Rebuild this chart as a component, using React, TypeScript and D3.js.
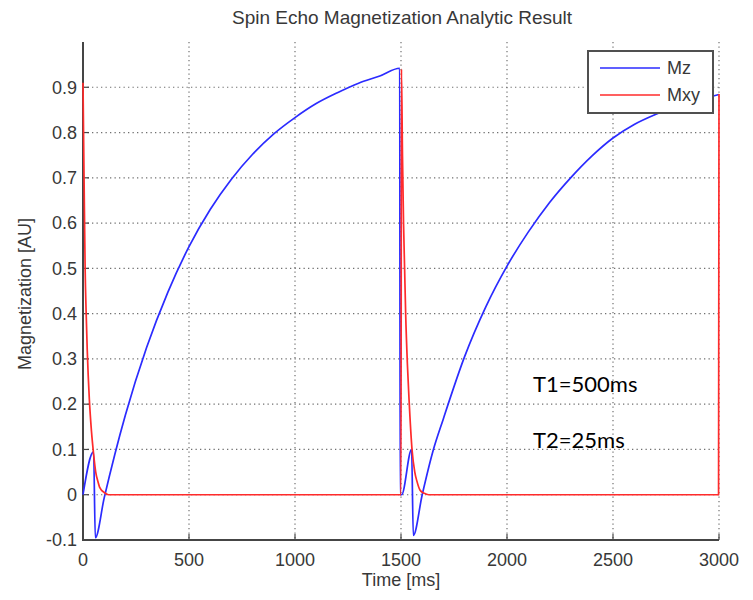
import React, { useEffect, useRef } from 'react';
import * as d3 from 'd3';

// values
const mzTime = [0, 50, 58, 100, 150, 200, 300, 400, 500, 600, 700, 800, 900, 1000, 1100, 1200, 1300, 1400, 1494, 1496, 1503, 1550, 1558, 1600, 1650, 1700, 1800, 1900, 2000, 2100, 2200, 2300, 2400, 2500, 2600, 2700, 2800, 2900, 3000];
const mzValue = [0, 0.095, -0.095, -0.007, 0.089, 0.176, 0.325, 0.447, 0.548, 0.63, 0.697, 0.752, 0.797, 0.833, 0.864, 0.888, 0.909, 0.925, 0.942, 0, 0, 0.1, -0.09, 0, 0.095, 0.168, 0.305, 0.415, 0.505, 0.58, 0.645, 0.7, 0.748, 0.788, 0.818, 0.84, 0.858, 0.872, 0.884];

const mxyTime = [0, 5, 10, 15, 20, 30, 40, 50, 60, 70, 80, 100, 120, 1500, 1502, 1507, 1512, 1517, 1522, 1530, 1538, 1552, 1565, 1575, 1590, 1610, 1630, 2998, 3000];
const mxyValue = [0.91, 0.7, 0.5, 0.4, 0.32, 0.21, 0.14, 0.09, 0.05, 0.03, 0.015, 0.005, 0, 0, 0.94, 0.75, 0.6, 0.5, 0.4, 0.29, 0.21, 0.1, 0.05, 0.03, 0.01, 0.003, 0, 0, 0.885];

const xTicks = [0, 500, 1000, 1500, 2000, 2500, 3000];
const yTicks = [-0.1, 0, 0.1, 0.2, 0.3, 0.4, 0.5, 0.6, 0.7, 0.8, 0.9];
const seriesNames = ['Mz', 'Mxy'];
const seriesColors = ['#2b2bff', '#ff2b2b'];
const notes = ['T1=500ms', 'T2=25ms'];

const axisFont = '"Liberation Sans", Arial, sans-serif';

const SpinEchoChart = () => {
    const ref = useRef<SVGSVGElement>(null);

    useEffect(() => {
        const width = 753;
        const height = 600;
        const margin = { top: 42, right: 34, bottom: 60, left: 83 };

        const svg = d3.select(ref.current);
        svg.selectAll('*').remove();

        const x = d3.scaleLinear().domain([0, 3000]).range([margin.left, width - margin.right]);
        const y = d3.scaleLinear().domain([-0.1, 1.0]).range([height - margin.bottom, margin.top]);

        svg.append('rect').attr('width', width).attr('height', height).attr('fill', '#fff');

        // dotted grid
        const grid = svg.append('g')
            .attr('stroke', '#707070')
            .attr('stroke-width', 1.2)
            .attr('stroke-dasharray', '1.3,3.2');
        grid.selectAll('line.v')
            .data(xTicks.filter(d => d > 0))
            .join('line')
            .attr('class', 'v')
            .attr('x1', d => x(d)).attr('x2', d => x(d))
            .attr('y1', y(1.0)).attr('y2', y(-0.1));
        grid.selectAll('line.h')
            .data(yTicks.filter(d => d > -0.1))
            .join('line')
            .attr('class', 'h')
            .attr('y1', d => y(d)).attr('y2', d => y(d))
            .attr('x1', x(0)).attr('x2', x(3000));

        // axes (left + bottom only), ticks point inward
        const axes = svg.append('g').attr('stroke', '#454545');
        axes.append('path')
            .attr('fill', 'none')
            .attr('stroke-width', 2)
            .attr('d', `M${x(0)},${y(1.0)}V${y(-0.1)}H${x(3000)}`);
        axes.selectAll('line.ty')
            .data(yTicks)
            .join('line')
            .attr('class', 'ty')
            .attr('stroke-width', 1.2)
            .attr('x1', x(0)).attr('x2', x(0) + 6)
            .attr('y1', d => y(d)).attr('y2', d => y(d));
        axes.selectAll('line.tx')
            .data(xTicks)
            .join('line')
            .attr('class', 'tx')
            .attr('stroke-width', 1.2)
            .attr('x1', d => x(d)).attr('x2', d => x(d))
            .attr('y1', y(-0.1)).attr('y2', y(-0.1) - 6);

        const labels = svg.append('g')
            .attr('font-family', axisFont)
            .attr('font-size', 18)
            .attr('fill', '#383838');
        labels.selectAll('text.ly')
            .data(yTicks)
            .join('text')
            .attr('class', 'ly')
            .attr('x', x(0) - 6)
            .attr('y', d => y(d))
            .attr('dy', '0.35em')
            .attr('text-anchor', 'end')
            .text(d => d3.format('.1~f')(d).replace('\u2212', '-'));
        labels.selectAll('text.lx')
            .data(xTicks)
            .join('text')
            .attr('class', 'lx')
            .attr('x', d => x(d))
            .attr('y', y(-0.1) + 26)
            .attr('text-anchor', 'middle')
            .text(d => String(d));

        labels.append('text')
            .attr('x', (x(0) + x(3000)) / 2)
            .attr('y', 586)
            .attr('text-anchor', 'middle')
            .text('Time [ms]');
        labels.append('text')
            .attr('transform', `translate(31,294) rotate(-90)`)
            .attr('text-anchor', 'middle')
            .text('Magnetization [AU]');
        labels.append('text')
            .attr('x', 402)
            .attr('y', 24)
            .attr('font-size', 19)
            .attr('text-anchor', 'middle')
            .text('Spin Echo Magnetization Analytic Result');

        // curves
        const series = [
            mzTime.map((t, i) => [t, mzValue[i]] as [number, number]),
            mxyTime.map((t, i) => [t, mxyValue[i]] as [number, number]),
        ];
        const line = d3.line<[number, number]>()
            .x(d => x(d[0]))
            .y(d => y(d[1]))
            .curve(d3.curveMonotoneX);
        svg.append('g')
            .attr('fill', 'none')
            .attr('stroke-width', 1.7)
            .attr('stroke-linejoin', 'round')
            .selectAll('path')
            .data(series)
            .join('path')
            .attr('stroke', (d, i) => seriesColors[i])
            .attr('d', d => line(d));

        // notes
        svg.append('g')
            .attr('font-family', 'Lato, "Open Sans", sans-serif')
            .attr('font-size', 22)
            .attr('fill', '#000')
            .selectAll('text')
            .data(notes)
            .join('text')
            .attr('x', 533)
            .attr('y', (d, i) => 392 + i * 56)
            .text(d => d);

        // legend
        const legend = svg.append('g');
        legend.append('rect')
            .attr('x', 588).attr('y', 51)
            .attr('width', 125).attr('height', 62)
            .attr('fill', '#fff')
            .attr('stroke', '#505050')
            .attr('stroke-width', 2);
        const item = legend.selectAll('g')
            .data(seriesNames)
            .join('g')
            .attr('transform', (d, i) => `translate(0,${68 + i * 27})`);
        item.append('line')
            .attr('x1', 600).attr('x2', 660)
            .attr('stroke', (d, i) => seriesColors[i])
            .attr('stroke-width', 1.7);
        item.append('text')
            .attr('x', 667)
            .attr('dy', '0.35em')
            .attr('font-family', axisFont)
            .attr('font-size', 18)
            .attr('fill', '#383838')
            .text(d => d);
    }, []);

    return (
        <svg ref={ref} width={753} height={600}
            style={{ position: 'absolute', left: 0, top: 0, display: 'block' }} />
    );
};

export default function App() {
    return <SpinEchoChart />;
}
